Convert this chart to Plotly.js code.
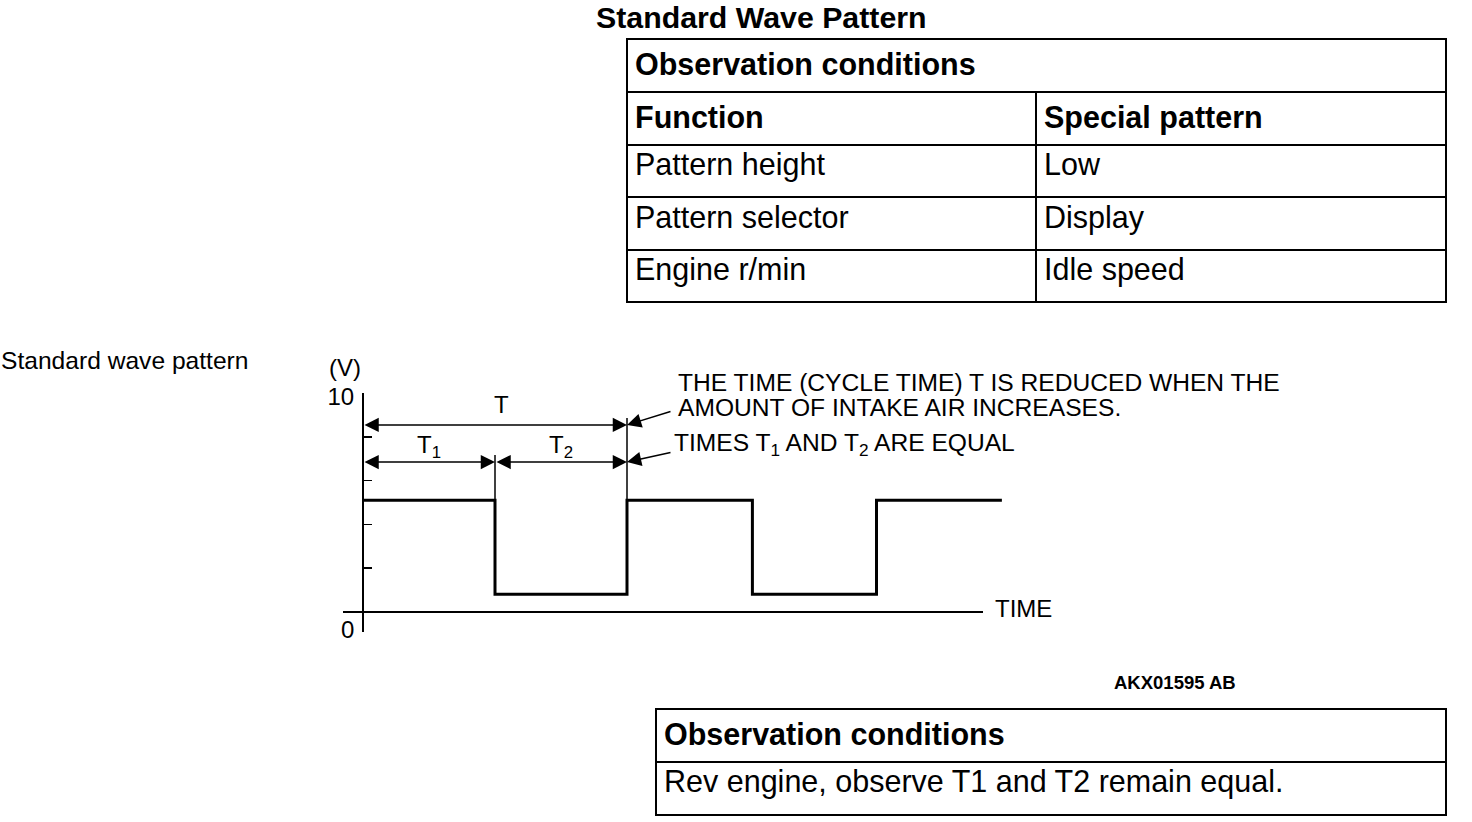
<!DOCTYPE html>
<html>
<head>
<meta charset="utf-8">
<script src="https://cdn.plot.ly/plotly-3.0.1.min.js"></script>
<style>html,body{margin:0;padding:0;background:#fff;overflow:hidden}</style>
</head>
<body>
<div id="chart" style="width:1472px;height:822px"></div>
<script>
// ---------------- data ----------------
// square wave: times of edges (one unit = T1) and voltage levels (V)
const waveTime = [0, 1.0, 2.0, 2.95, 3.89, 4.84];
const waveVolt = [5.1, 0.8, 5.1, 0.8, 5.1, 5.1];

// y axis ticks
const yTickVals = [0, 2, 4, 6, 8, 10];
const yTickText = ['', '', '', '', '', '10'];

// dimension arrows (T, T1, T2)
const dimStart  = [0, 0, 1.0];
const dimEnd    = [2.0, 1.0, 2.0];
const dimLevel  = [8.55, 6.85, 6.85];
const dimLabels = ['T', 'T<sub>1</sub>', 'T<sub>2</sub>'];
const dimLabelX = [1.05, 0.5, 1.5];
const dimLabelY = [9.5, 7.55, 7.55];

// extension lines at the edges of the first cycle
const extX      = [1.0, 2.0];
const extTop    = [7.17, 8.87];
const extBottom = [5.1, 5.1];

// callout notes
const calloutX = [2.0, 2.0];
const calloutY = [8.55, 6.85];
const noteLines = [
  'THE TIME (CYCLE TIME) T IS REDUCED WHEN THE',
  'AMOUNT OF INTAKE AIR INCREASES.',
  'TIMES T<sub>1</sub> AND T<sub>2</sub> ARE EQUAL'
];

// tables
const tableTitle      = 'Standard Wave Pattern';
const topTableHeading = 'Observation conditions';
const topTableColumns = ['Function', 'Special pattern'];
const tableFunctions  = ['Pattern height', 'Pattern selector', 'Engine r/min'];
const tableSettings   = ['Low', 'Display', 'Idle speed'];
const bottomTableHeading = 'Observation conditions';
const bottomTableRows    = ['Rev engine, observe T1 and T2 remain equal.'];

const sideLabel = 'Standard wave pattern';
const figureCode = 'AKX01595 AB';

// ---------------- layout helpers ----------------
const W = 1472, H = 822;
const fx = p => p / W;
const fy = p => 1 - p / H;
const FONT = 'Liberation Sans, Arial, Helvetica, sans-serif';
const TFONT = {family: FONT, size: 30.5, color: 'black'};
const LINE = {color: 'black', width: 2};
const FILL = {color: 'white'};
const bold = s => '<b>' + s + '</b>';

const traces = [];

// tables
traces.push({
  type: 'table',
  domain: {x: [fx(627), fx(1446)], y: [fy(96), fy(39)]},
  header: {values: [bold(topTableHeading)], height: 53, align: 'left', line: LINE, fill: FILL, font: TFONT},
  cells: {values: [[]], height: 52.5, line: LINE, fill: FILL}
});
traces.push({
  type: 'table',
  domain: {x: [fx(627), fx(1446)], y: [fy(306), fy(92)]},
  columnwidth: [409, 410],
  header: {values: topTableColumns.map(bold), height: 52.5, align: 'left', line: LINE, fill: FILL, font: TFONT},
  cells: {values: [tableFunctions, tableSettings], height: 52.5, align: 'left', line: LINE, fill: FILL, font: TFONT}
});
traces.push({
  type: 'table',
  domain: {x: [fx(656), fx(1446)], y: [fy(822), fy(709)]},
  header: {values: [bold(bottomTableHeading)], height: 52.5, align: 'left', line: LINE, fill: FILL, font: TFONT},
  cells: {values: [bottomTableRows], height: 53, align: 'left', line: LINE, fill: FILL, font: TFONT}
});

// waveform
traces.push({
  type: 'scatter', mode: 'lines', x: waveTime, y: waveVolt,
  line: {color: 'black', width: 3, shape: 'hv'},
  xaxis: 'x', yaxis: 'y', showlegend: false, hoverinfo: 'skip'
});

// extension lines
const extXs = [], extYs = [];
extX.forEach((x, i) => { extXs.push(x, x, null); extYs.push(extTop[i], extBottom[i], null); });
traces.push({
  type: 'scatter', mode: 'lines', x: extXs, y: extYs,
  line: {color: 'black', width: 1.5},
  xaxis: 'x', yaxis: 'y', showlegend: false, hoverinfo: 'skip'
});

// helper trace that carries the horizontal time axis line
traces.push({type: 'scatter', mode: 'lines', x: [], y: [], xaxis: 'x2', yaxis: 'y', showlegend: false});

// annotations
const ann = [];
const txt = size => ({family: FONT, size: size, color: 'black'});
dimStart.forEach((s, i) => {
  ann.push({
    xref: 'x', yref: 'y', axref: 'x', ayref: 'y',
    x: dimEnd[i], y: dimLevel[i], ax: s, ay: dimLevel[i],
    text: '', showarrow: true, arrowside: 'end+start',
    arrowhead: 2, startarrowhead: 2, arrowsize: 1.9, startarrowsize: 1.9,
    arrowwidth: 1.5, arrowcolor: 'black', standoff: 0, startstandoff: 0
  });
  ann.push({
    xref: 'x', yref: 'y', x: dimLabelX[i], y: dimLabelY[i],
    text: dimLabels[i], showarrow: false, font: txt(24)
  });
});
calloutX.forEach((x, i) => {
  ann.push({
    xref: 'x', yref: 'y', x: x, y: calloutY[i], ax: 45, ay: i === 0 ? -14 : -10,
    text: '', showarrow: true, arrowhead: 2, arrowsize: 1.9, arrowwidth: 1.5,
    arrowcolor: 'black', standoff: 0
  });
});
const noteX = [678, 678, 674], noteY = [382, 407, 445];
noteLines.forEach((t, i) => {
  ann.push({
    xref: 'paper', yref: 'paper', x: fx(noteX[i]), y: fy(noteY[i]),
    xanchor: 'left', yanchor: 'middle', text: t, showarrow: false,
    borderpad: 0, borderwidth: 0, font: txt(24.6)
  });
});
const plainLabel = (text, px, py, anchor, size) => ({
  xref: 'paper', yref: 'paper', x: fx(px), y: fy(py), xanchor: anchor, yanchor: 'middle',
  text: text, showarrow: false, borderpad: 0, borderwidth: 0, font: txt(size)
});
ann.push(plainLabel('(V)', 329, 367, 'left', 24));
ann.push(plainLabel('0', 354, 629, 'right', 24));
ann.push(plainLabel('TIME', 995, 608, 'left', 24));
ann.push(plainLabel(sideLabel, 1, 360, 'left', 24.6));
ann.push(plainLabel(bold(figureCode), 1114, 682, 'left', 18.5));

// time axis scale: one unit = 132 px, t = 0 at x = 363 px
const xDomain = [fx(343), fx(1012)];
const xRange = [-20 / 132, (1012 - 363) / 132];
const yRange = [-(631.7 - 611.7) / 21.84, 10];

const layout = {
  width: W, height: H,
  margin: {l: 0, r: 0, t: 0, b: 0, pad: 0},
  paper_bgcolor: 'white', plot_bgcolor: 'rgba(0,0,0,0)',
  font: {family: FONT, color: 'black'},
  showlegend: false,
  title: {
    text: bold(tableTitle), xref: 'paper', yref: 'paper',
    x: fx(596), xanchor: 'left', y: fy(17.5), yanchor: 'middle',
    font: {family: FONT, size: 30.3, color: 'black'}
  },
  xaxis: {
    domain: xDomain, range: xRange, anchor: 'y',
    showline: false, showgrid: false, zeroline: false, ticks: '', showticklabels: false, fixedrange: true
  },
  xaxis2: {
    domain: [fx(343), fx(983)], range: xRange, anchor: 'free', position: fy(611.7),
    showline: true, linecolor: 'black', linewidth: 2,
    showgrid: false, zeroline: false, ticks: '', showticklabels: false, fixedrange: true
  },
  yaxis: {
    domain: [fy(631.7), fy(393.3)], range: yRange, anchor: 'free', position: fx(363),
    showline: true, linecolor: 'black', linewidth: 2,
    showgrid: false, zeroline: false,
    tickmode: 'array', tickvals: yTickVals, ticktext: yTickText,
    ticks: 'inside', ticklen: 8, tickwidth: 1.5, tickcolor: 'black',
    ticklabelstandoff: 3, ticklabelshift: 3,
    tickfont: {family: FONT, size: 24, color: 'black'}, fixedrange: true
  },
  annotations: ann
};

Plotly.newPlot('chart', traces, layout, {displayModeBar: false, staticPlot: true});
</script>
</body>
</html>
